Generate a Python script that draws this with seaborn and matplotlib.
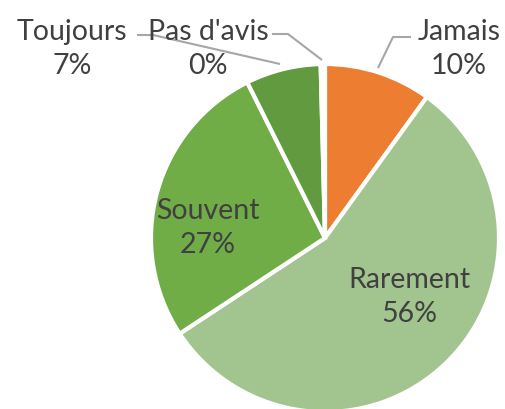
import matplotlib.pyplot as plt
import seaborn as sns

sns.set_theme(style="white")
plt.rcParams['font.family'] = ['Lato', 'DejaVu Sans']

# data
categories = ['Jamais', 'Rarement', 'Souvent', 'Toujours', "Pas d'avis"]
values = [10, 56, 27, 7, 0.4]
colors = ['#ED7D31', '#A2C58F', '#70AD47', '#629B3F', '#A2C58F']

W, H = 506, 409
fig = plt.figure(figsize=(W / 100, H / 100), dpi=100)
ax = fig.add_axes([0, 0, 1, 1])

cx, cy, r = 325, H - 238, 174
ax.pie(values, colors=colors, startangle=90, counterclock=False,
       center=(cx, cy), radius=r, frame=True,
       wedgeprops=dict(edgecolor='white', linewidth=3))
ax.set_xlim(0, W)
ax.set_ylim(0, H)
ax.set_aspect('equal')
ax.axis('off')

total = sum(values)
pct = [f"{round(v / total * 100)}%" for v in values]
txt = dict(color='#404040', fontsize=20.5, ha='center', va='center', linespacing=1.4)

# label positions (pixels, y from top)
pos = {'Jamais': (459, 49), 'Rarement': (409, 297), 'Souvent': (208, 228),
       'Toujours': (72, 49), "Pas d'avis": (208, 49)}
for c, p in zip(categories, pct):
    x, y = pos[c]
    ax.text(x, H - y, f"{c}\n{p}", **txt)

# leader lines
lc = dict(color='#A6A6A6', lw=1.5, solid_capstyle='butt')
ax.plot([378, 393, 411], [H - 68, H - 37, H - 37], **lc)
ax.plot([137, 153, 280], [H - 35, H - 35, H - 64], **lc)
ax.plot([272, 288, 322], [H - 34, H - 34, H - 60], **lc)

fig.savefig('out.png', dpi=100)
